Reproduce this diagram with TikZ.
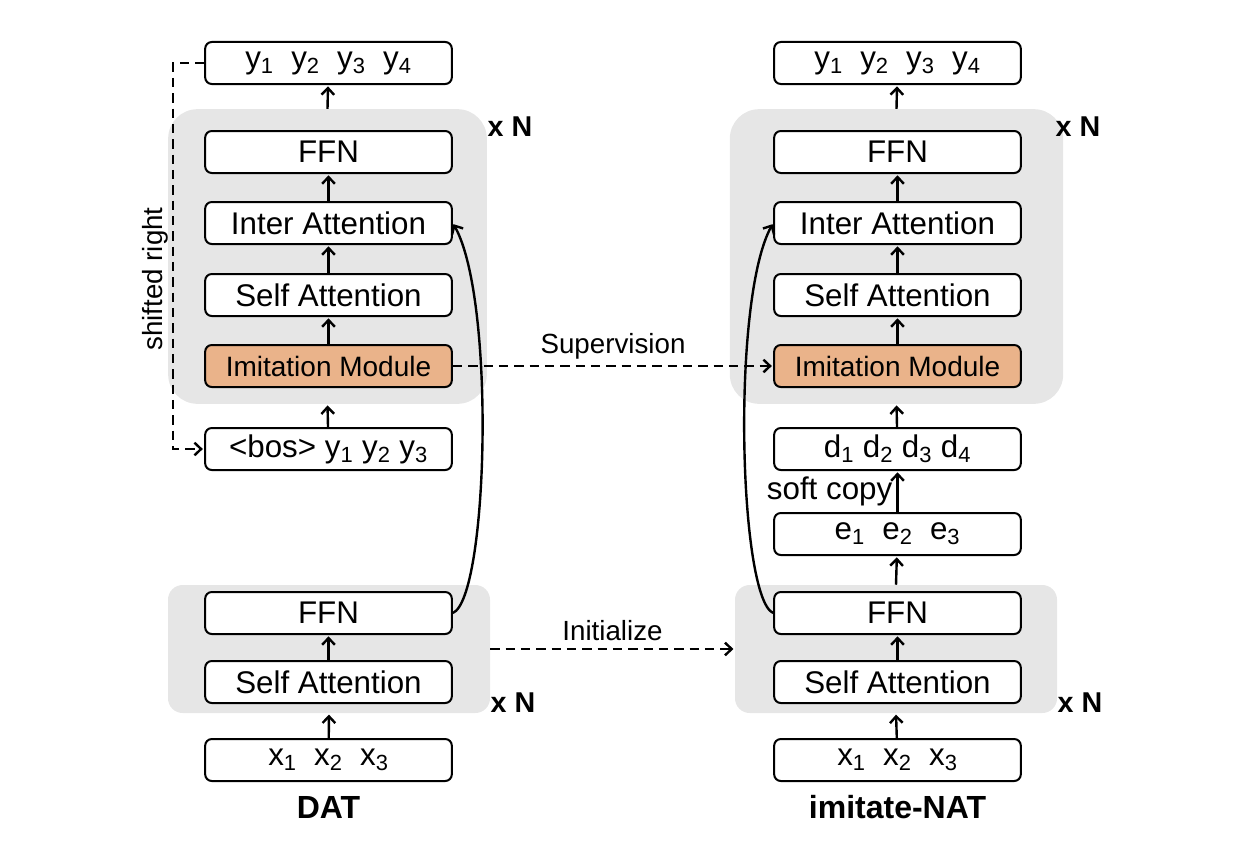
\documentclass[tikz,border=0pt]{standalone}
\usepackage{fontspec}
\setmainfont{Liberation Sans}
\usetikzlibrary{arrows.meta}

\definecolor{grpgray}{RGB}{230,230,230}
\definecolor{imitorange}{RGB}{234,179,138}

\tikzset{
  blk/.style={draw, line width=1.5pt, rounded corners=5pt, fill=white, inner sep=0pt,
    minimum width=185pt, minimum height=31.5pt, font=\fontsize{23.5}{27}\selectfont},
  grp/.style={fill=grpgray, rounded corners=#1, inner sep=0pt},
  arr/.style={line width=1.8pt, -{Straight Barb[length=5pt,width=9.5pt,line width=1.8pt]}, shorten >=1pt},
  dsh/.style={arr, dash pattern=on 7pt off 4.5pt},
  lbl/.style={font=\fontsize{20.8}{24}\selectfont},
  bld/.style={font=\fontsize{24}{28}\selectfont\bfseries}
}

\begin{document}
\begin{tikzpicture}[x=0.75pt,y=0.75pt,yscale=-1,xscale=1]
\useasboundingbox (0,0) rectangle (1244,842);

%Shape: Rounded Rect -- groups
\node [grp=22pt, minimum width=239pt, minimum height=221pt] (decL) at (327.5,256.5) {};
\node [grp=22pt, minimum width=250pt, minimum height=221pt] (decR) at (896.5,256.5) {};
\node [grp=11pt, minimum width=241.5pt, minimum height=96pt] (encL) at (329,649) {};
\node [grp=11pt, minimum width=241.5pt, minimum height=96pt] (encR) at (896,649) {};

% DAT column
\node [blk] (outL) at (328.5,63) {y\textsubscript{1}\ \ y\textsubscript{2}\ \ y\textsubscript{3}\ \ y\textsubscript{4}};
\node [blk] (ffnL) at (328.5,152) {FFN};
\node [blk] (interL) at (328.5,223) {Inter Attention};
\node [blk] (selfL) at (328.5,295) {Self Attention};
\node [blk, fill=imitorange, font=\fontsize{21}{24}\selectfont] (imitL) at (328.5,366) {Imitation Module};
\node [blk] (bosL) at (328.5,449) {<bos> y\textsubscript{1} y\textsubscript{2} y\textsubscript{3}};
\node [blk] (encffnL) at (328.5,613) {FFN};
\node [blk] (encselfL) at (328.5,682) {Self Attention};
\node [blk] (srcL) at (328.5,760) {x\textsubscript{1}\ \ x\textsubscript{2}\ \ x\textsubscript{3}};

% imitate-NAT column
\node [blk] (outR) at (897.5,63) {y\textsubscript{1}\ \ y\textsubscript{2}\ \ y\textsubscript{3}\ \ y\textsubscript{4}};
\node [blk] (ffnR) at (897.5,152) {FFN};
\node [blk] (interR) at (897.5,223) {Inter Attention};
\node [blk] (selfR) at (897.5,295) {Self Attention};
\node [blk, fill=imitorange, font=\fontsize{21}{24}\selectfont] (imitR) at (897.5,366) {Imitation Module};
\node [blk] (dR) at (897.5,449) {d\textsubscript{1} d\textsubscript{2} d\textsubscript{3} d\textsubscript{4}};
\node [blk] (eR) at (897.5,534) {e\textsubscript{1}\ \ e\textsubscript{2}\ \ e\textsubscript{3}};
\node [blk] (encffnR) at (897.5,613) {FFN};
\node [blk] (encselfR) at (897.5,682) {Self Attention};
\node [blk] (srcR) at (897.5,760) {x\textsubscript{1}\ \ x\textsubscript{2}\ \ x\textsubscript{3}};

% Text Node
\node [bld, font=\fontsize{21.5}{25}\selectfont\bfseries] (nL1) at (510,127) {x N};
\node [bld, font=\fontsize{21.5}{25}\selectfont\bfseries] (nR1) at (1078,127) {x N};
\node [bld, font=\fontsize{21.5}{25}\selectfont\bfseries] (nL2) at (513,703) {x N};
\node [bld, font=\fontsize{21.5}{25}\selectfont\bfseries] (nR2) at (1080,703) {x N};
\node [bld] (datL) at (328.5,807) {DAT};
\node [bld] (natL) at (897.5,807) {imitate-NAT};
\node [lbl, rotate=90] (shiftL) at (155,279) {shifted right};

%Straight Lines -- DAT
\draw [arr] (srcL) -- (encL.south);
\draw [arr] (encselfL) -- (encffnL);
\draw [arr] (bosL) -- (decL.south);
\draw [arr] (imitL) -- (selfL);
\draw [arr] (selfL) -- (interL);
\draw [arr] (interL) -- (ffnL);
\draw [arr] (decL.north) -- (outL);

%Straight Lines -- imitate-NAT
\draw [arr] (srcR) -- (encR.south);
\draw [arr] (encselfR) -- (encffnR);
\draw [arr] (encR.north) -- (eR);
\draw [arr] (eR) -- node [left, inner sep=3pt, font=\fontsize{23.5}{27}\selectfont] {soft copy} (dR);
\draw [arr] (dR) -- (decR.south);
\draw [arr] (imitR) -- (selfR);
\draw [arr] (selfR) -- (interR);
\draw [arr] (interR) -- (ffnR);
\draw [arr] (decR.north) -- (outR);

%Curve Lines
\draw [arr] (encffnL.east) .. controls (488,598) and (496,300) .. (interL.east);
\draw [arr] (encffnR.west) .. controls (739,598) and (731,300) .. (interR.west);

%Dashed Lines
\coordinate (sr1) at (173,63);
\coordinate (sr2) at (173,449);
\draw [dsh] (outL.west) -- (sr1) -- (sr2) -- (bosL.west);
\draw [dsh] (imitL.east) -- node [lbl, above, inner sep=4pt] {Supervision} (imitR.west);
\draw [dsh] (encL.east) -- node [lbl, above, inner sep=5pt] {Initialize} (encR.west);

\end{tikzpicture}
\end{document}
